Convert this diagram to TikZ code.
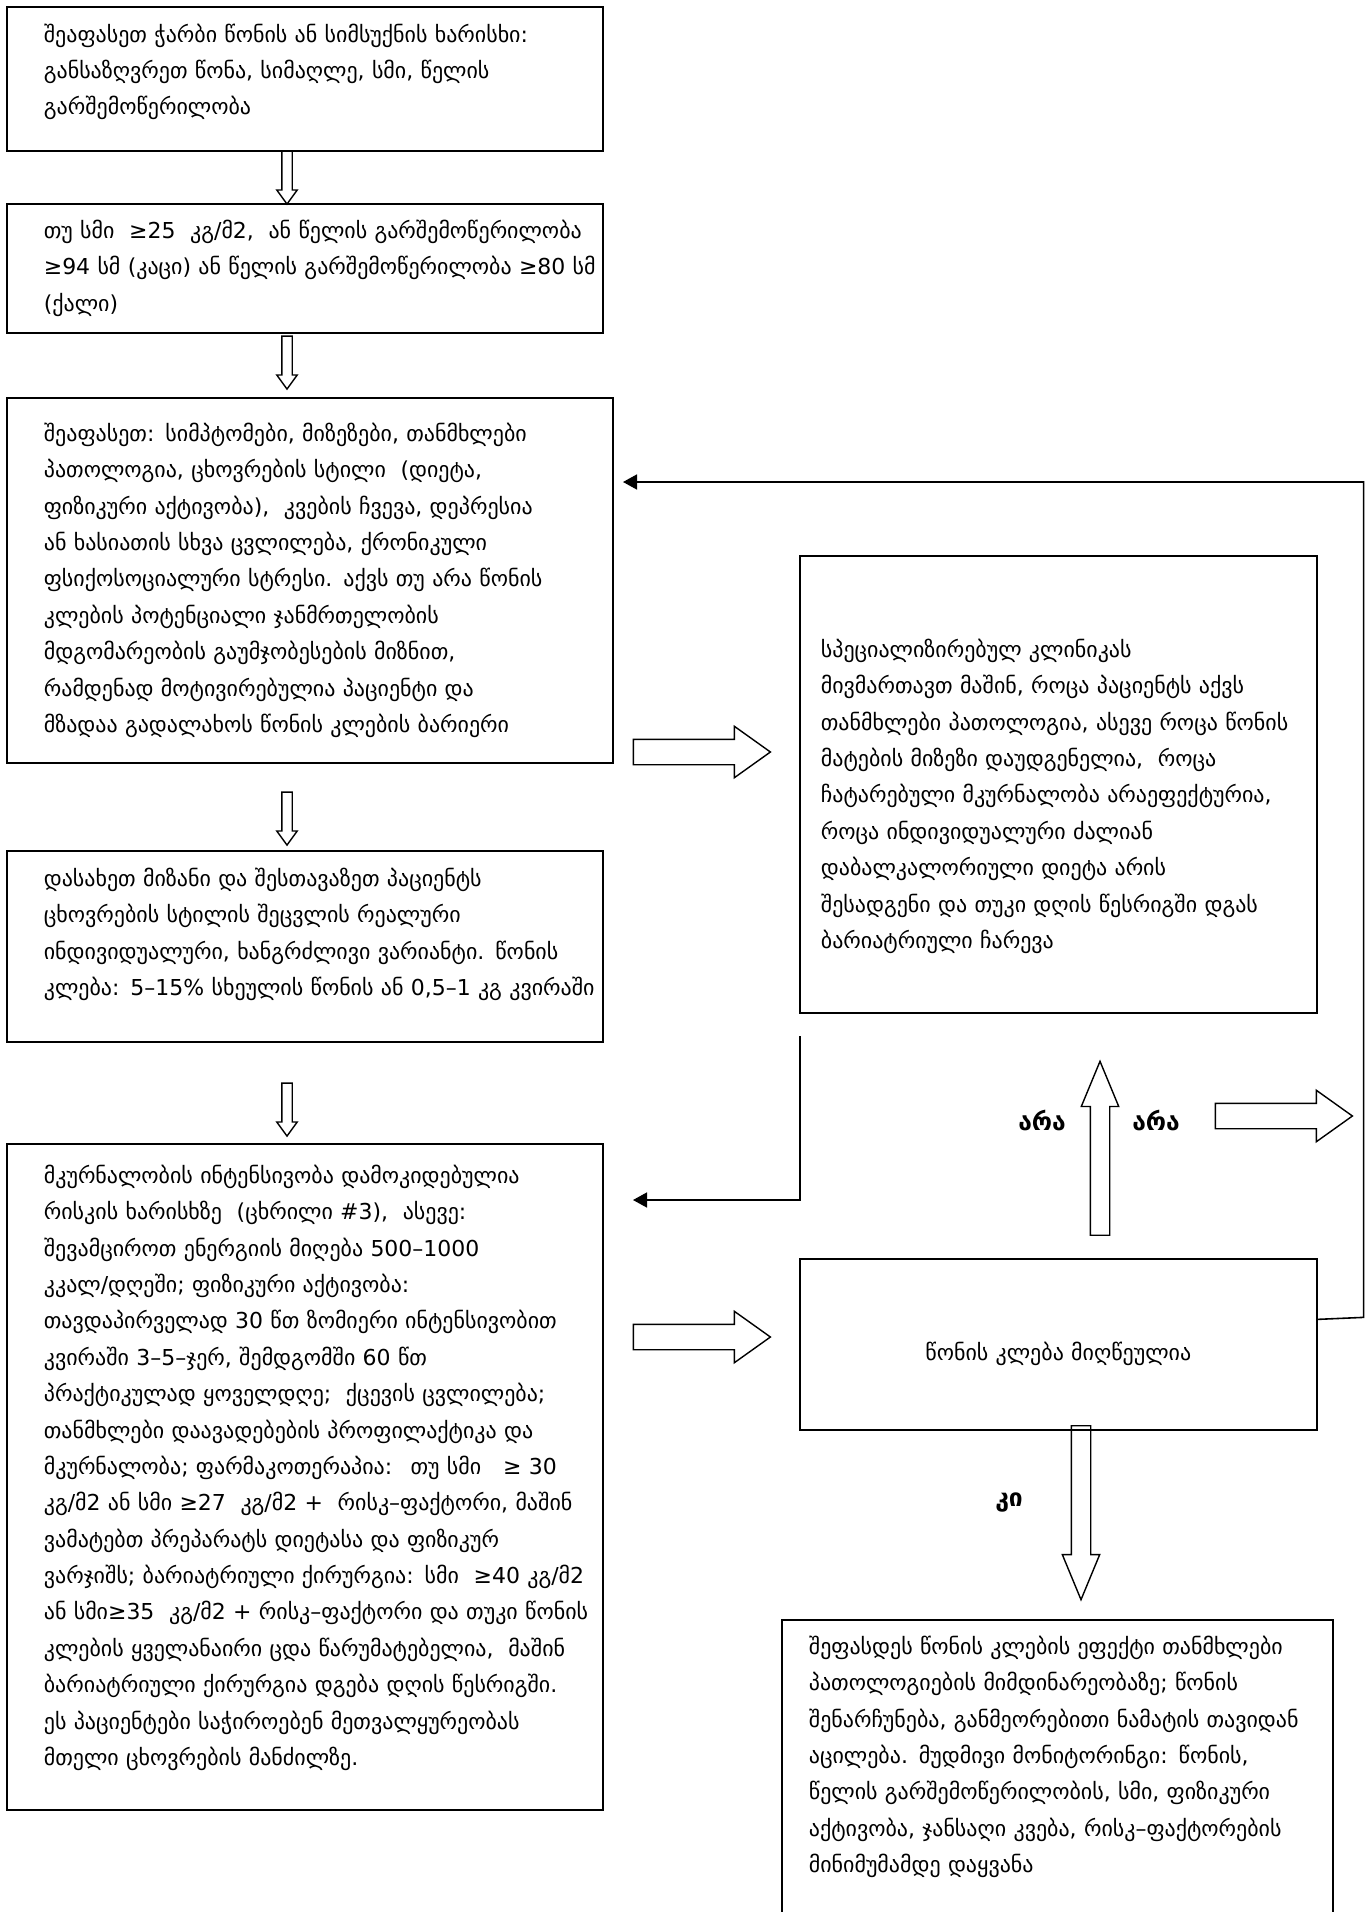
\documentclass[tikz,border=0pt]{standalone}
\usepackage{fontspec}
\setmainfont{DejaVu Sans}
\usepackage{tikz}
\usetikzlibrary{shapes.arrows,arrows.meta}

\newcommand{\ind}[1]{\leftskip=#1\relax\rightskip=-0.3cm plus 1fil\relax}

\begin{document}
\begin{tikzpicture}[x=0.02cm,y=-0.02cm,
    font=\fontsize{12.5}{20.7}\selectfont,
    box/.style={draw,line width=1pt,anchor=north west,inner xsep=0.3cm,inner ysep=0pt,align=left},
    thin arr/.style={single arrow,draw,line width=0.8pt,inner sep=0.09cm,minimum height=1.06cm,
        single arrow head extend=0.1cm,single arrow tip angle=72,shape border rotate=270},
    fat arr/.style={single arrow,draw,line width=0.8pt,inner sep=0.24cm,minimum height=2.74cm,
        single arrow head extend=0.26cm,single arrow tip angle=71},
    tall arr/.style={single arrow,draw,line width=0.8pt,inner sep=0.18cm,minimum height=3.48cm,
        single arrow head extend=0.18cm,single arrow tip angle=45},
    link/.style={line width=0.9pt,-{Triangle[length=0.28cm,width=0.3cm]}},
    answer/.style={font=\fontsize{14}{16}\selectfont\bfseries}]
    \useasboundingbox (0,0) rectangle (1369,1912);

    % left column
    \node[box,text width=11.32cm,minimum height=2.88cm] (assess) at (6,6) {\ind{0.44cm}შეაფასეთ ჭარბი წონის ან სიმსუქნის ხარისხი:\\
        განსაზღვრეთ წონა, სიმაღლე, სმი, წელის\\
        გარშემოწერილობა\par\kern0.28cm};
    \node[box,text width=11.32cm,minimum height=2.58cm] (criteria) at (6,203) {\ind{0.44cm}თუ სმი \ ≥25 \ კგ/მ2, \ ან წელის გარშემოწერილობა\\
        ≥94 სმ (კაცი) ან წელის გარშემოწერილობა ≥80 სმ\\
        (ქალი)\par};
    \node[box,text width=11.52cm,minimum height=7.3cm] (evaluate) at (6,397) {\ind{0.44cm}შეაფასეთ: სიმპტომები, მიზეზები, თანმხლები\\
        პათოლოგია, ცხოვრების სტილი \ (დიეტა,\\
        ფიზიკური აქტივობა), \ კვების ჩვევა, დეპრესია\\
        ან ხასიათის სხვა ცვლილება, ქრონიკული\\
        ფსიქოსოციალური სტრესი. აქვს თუ არა წონის\\
        კლების პოტენციალი ჯანმრთელობის\\
        მდგომარეობის გაუმჯობესების მიზნით,\\
        რამდენად მოტივირებულია პაციენტი და\\
        მზადაა გადალახოს წონის კლების ბარიერი\par};
    \node[box,text width=11.32cm,minimum height=3.82cm] (goal) at (6,850) {\ind{0.44cm}დასახეთ მიზანი და შესთავაზეთ პაციენტს\\
        ცხოვრების სტილის შეცვლის რეალური\\
        ინდივიდუალური, ხანგრძლივი ვარიანტი. წონის\\
        კლება: 5–15\% სხეულის წონის ან 0,5–1 კგ კვირაში\par\kern0.48cm};
    \node[box,text width=11.32cm,minimum height=13.32cm] (treat) at (6,1143) {\ind{0.44cm}მკურნალობის ინტენსივობა დამოკიდებულია\\
        რისკის ხარისხზე \ (ცხრილი \#3), \ ასევე:\\
        შევამციროთ ენერგიის მიღება 500–1000\\
        კკალ/დღეში; ფიზიკური აქტივობა:\\
        თავდაპირველად 30 წთ ზომიერი ინტენსივობით\\
        კვირაში 3–5–ჯერ, შემდგომში 60 წთ\\
        პრაქტიკულად ყოველდღე; \ ქცევის ცვლილება;\\
        თანმხლები დაავადებების პროფილაქტიკა და\\
        მკურნალობა; ფარმაკოთერაპია: \ თუ სმი \ \ ≥ 30\\
        კგ/მ2 ან სმი ≥27 \ კგ/მ2 + \ რისკ–ფაქტორი, მაშინ\\
        ვამატებთ პრეპარატს დიეტასა და ფიზიკურ\\
        ვარჯიშს; ბარიატრიული ქირურგია: სმი \ ≥40 კგ/მ2\\
        ან სმი≥35 \ კგ/მ2 + რისკ–ფაქტორი და თუკი წონის\\
        კლების ყველანაირი ცდა წარუმატებელია, \ მაშინ\\
        ბარიატრიული ქირურგია დგება დღის წესრიგში.\\
        ეს პაციენტები საჭიროებენ მეთვალყურეობას\\
        მთელი ცხოვრების მანძილზე.\par\kern0.36cm};

    % right column
    \node[box,text width=9.74cm,minimum height=9.14cm] (clinic) at (799,555) {\ind{0.12cm}სპეციალიზირებულ კლინიკას\\
        მივმართავთ მაშინ, როცა პაციენტს აქვს\\
        თანმხლები პათოლოგია, ასევე როცა წონის\\
        მატების მიზეზი დაუდგენელია, \ როცა\\
        ჩატარებული მკურნალობა არაეფექტურია,\\
        როცა ინდივიდუალური ძალიან\\
        დაბალკალორიული დიეტა არის\\
        შესადგენი და თუკი დღის წესრიგში დგას\\
        ბარიატრიული ჩარევა\par\kern-0.48cm};
    \node[box,align=center,text width=9.74cm,minimum height=3.42cm] (loss) at (799,1258) {\raisebox{-0.2cm}[\height][\depth]{წონის კლება მიღწეულია}};
    \node[box,draw=none,text width=10.38cm,minimum height=5.44cm] (monitor) at (782,1620) {\ind{0.22cm}შეფასდეს წონის კლების ეფექტი თანმხლები\\
        პათოლოგიების მიმდინარეობაზე; წონის\\
        შენარჩუნება, განმეორებითი ნამატის თავიდან\\
        აცილება. მუდმივი მონიტორინგი: წონის,\\
        წელის გარშემოწერილობის, სმი, ფიზიკური\\
        აქტივობა, ჯანსაღი კვება, რისკ–ფაქტორების\\
        მინიმუმამდე დაყვანა\par};
    \coordinate (pagebottom) at (0,1940);
    \draw[line width=1pt] (monitor.west |- pagebottom) -- (monitor.north west) -- (monitor.north east) -- (monitor.east |- pagebottom);

    % block arrows
    \node[thin arr] (a1) at (287,174) {};
    \node[thin arr] (a2) at (287,359) {};
    \node[thin arr] (a3) at (287,815) {};
    \node[thin arr] (a4) at (287,1106) {};
    \node[fat arr] (toclinic) at (693,752) {};
    \node[fat arr] (toloss) at (693,1337) {};
    \node[fat arr] (toright) at (1275,1116) {};
    \node[tall arr,shape border rotate=90] (up) at (1100,1160) {};
    \node[tall arr,shape border rotate=270] (down) at (1081,1501) {};

    \node[answer] (noleft) at (1042,1120) {არა};
    \node[answer] (noright) at (1156,1120) {არა};
    \node[answer] (yes) at (1009,1502) {კი};

    % thin connectors
    \coordinate (backA) at (623,482);
    \draw[link] ([yshift=0.5cm]loss.east) -- ++(46,-2) |- (backA);
    \coordinate (fromA) at (800,1036);
    \coordinate (backB) at (633,1200);
    \draw[link] (fromA) |- (backB);
\end{tikzpicture}
\end{document}
